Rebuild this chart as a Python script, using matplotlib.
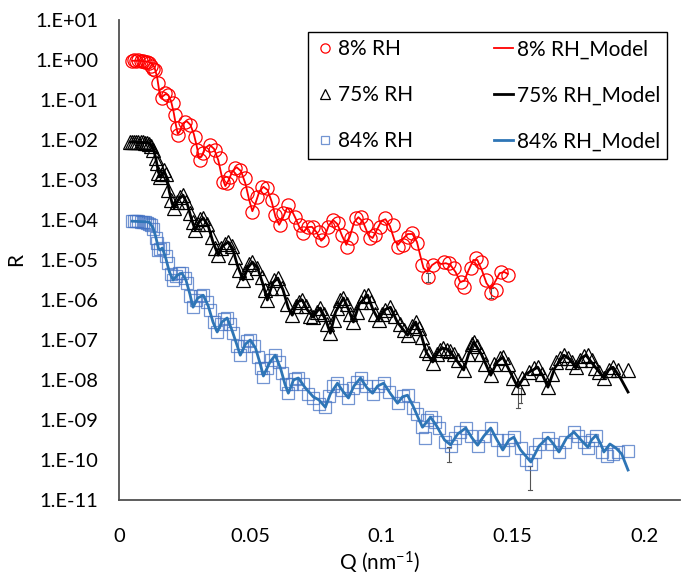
import numpy as np
import matplotlib
matplotlib.use('Agg')
import matplotlib.pyplot as plt
from matplotlib.ticker import NullLocator

q_8 = [0.0050, 0.0058, 0.0066, 0.0074, 0.0082, 0.0090, 0.0098, 0.0106, 0.0114, 0.0122, 0.0130,
       0.0137, 0.0149, 0.0164, 0.0176, 0.0187, 0.0206, 0.0214, 0.0221, 0.0225, 0.0252, 0.0271,
       0.0290, 0.0298, 0.0309, 0.0321, 0.0347, 0.0366, 0.0385, 0.0397, 0.0412, 0.0424, 0.0443,
       0.0462, 0.0481, 0.0489, 0.0508, 0.0527, 0.0546, 0.0565, 0.0584, 0.0595, 0.0615, 0.0626,
       0.0645, 0.0672, 0.0691, 0.0702, 0.0721, 0.0740, 0.0760, 0.0775, 0.0798, 0.0817, 0.0836,
       0.0851, 0.0870, 0.0882, 0.0901, 0.0920, 0.0939, 0.0958, 0.0977, 0.0996, 0.1015, 0.1042,
       0.1061, 0.1080, 0.1099, 0.1118, 0.1137, 0.1156, 0.1176, 0.1198, 0.1237, 0.1256, 0.1275,
       0.1302, 0.1313, 0.1340, 0.1359, 0.1378, 0.1397, 0.1416, 0.1435, 0.1454, 0.1481]
lr_8 = [-0.02, -0.01, -0.02, -0.01, -0.03, -0.02, -0.04, -0.05, -0.08, -0.14, -0.22,
        -0.25, -0.58, -0.95, -0.83, -0.88, -1.08, -1.38, -1.70, -1.88, -1.55, -1.63,
        -1.93, -2.25, -2.50, -2.33, -2.13, -2.25, -2.45, -3.05, -3.08, -2.93, -2.70,
        -2.75, -2.95, -3.33, -3.80, -3.43, -3.18, -3.20, -3.50, -3.88, -4.13, -3.83,
        -3.63, -3.93, -4.13, -4.33, -4.18, -4.18, -4.30, -4.50, -4.18, -4.00, -4.08,
        -4.38, -4.68, -4.45, -3.95, -3.93, -4.13, -4.45, -4.38, -4.18, -3.95, -4.13,
        -4.68, -4.63, -4.43, -4.33, -4.58, -5.13, -5.43, -5.13, -5.05, -5.08, -5.20,
        -5.55, -5.68, -5.20, -4.95, -5.05, -5.50, -5.83, -5.75, -5.30, -5.38]

q_75 = [0.0042, 0.0050, 0.0058, 0.0066, 0.0074, 0.0082, 0.0090, 0.0098, 0.0106, 0.0114, 0.0122,
        0.0130, 0.0140, 0.0145, 0.0149, 0.0156, 0.0164, 0.0172, 0.0180, 0.0187, 0.0198, 0.0210,
        0.0220, 0.0232, 0.0244, 0.0256, 0.0271, 0.0280, 0.0290, 0.0300, 0.0310, 0.0321, 0.0335,
        0.0355, 0.0365, 0.0378, 0.0390, 0.0403, 0.0416, 0.0430, 0.0443, 0.0458, 0.0473, 0.0485,
        0.0497, 0.0508, 0.0525, 0.0546, 0.0556, 0.0565, 0.0578, 0.0592, 0.0607, 0.0622, 0.0640,
        0.0660, 0.0675, 0.0685, 0.0698, 0.0712, 0.0728, 0.0740, 0.0755, 0.0767, 0.0780, 0.0793,
        0.0805, 0.0818, 0.0830, 0.0843, 0.0855, 0.0868, 0.0880, 0.0893, 0.0905, 0.0920, 0.0933,
        0.0947, 0.0960, 0.0975, 0.0989, 0.1000, 0.1015, 0.1034, 0.1050, 0.1070, 0.1085, 0.1099,
        0.1115, 0.1130, 0.1143, 0.1156, 0.1170, 0.1182, 0.1195, 0.1210, 0.1222, 0.1233, 0.1250,
        0.1262, 0.1275, 0.1290, 0.1313, 0.1330, 0.1345, 0.1351, 0.1365, 0.1380, 0.1395, 0.1416,
        0.1430, 0.1450, 0.1462, 0.1480, 0.1500, 0.1519, 0.1535, 0.1560, 0.1580, 0.1595, 0.1610,
        0.1634, 0.1650, 0.1665, 0.1680, 0.1695, 0.1710, 0.1725, 0.1740, 0.1755, 0.1770, 0.1785,
        0.1800, 0.1815, 0.1830, 0.1847, 0.1865, 0.1882, 0.1900, 0.1939]
lr_75 = [-2.05, -2.04, -2.05, -2.04, -2.05, -2.06, -2.05, -2.07, -2.08, -2.10, -2.15,
         -2.25, -2.45, -2.58, -2.83, -2.93, -2.85, -2.75, -2.85, -3.25, -3.50, -3.70,
         -3.55, -3.42, -3.38, -3.55, -3.83, -4.05, -4.25, -4.10, -3.98, -3.95, -4.10,
         -4.43, -4.70, -4.88, -4.70, -4.60, -4.55, -4.65, -4.93, -5.25, -5.50, -5.30,
         -5.10, -5.05, -5.20, -5.43, -5.75, -6.00, -5.70, -5.50, -5.45, -5.70, -6.10,
         -6.38, -6.15, -6.05, -6.00, -6.15, -6.40, -6.43, -6.30, -6.20, -6.35, -6.60,
         -6.83, -6.50, -6.20, -6.00, -5.95, -6.10, -6.35, -6.55, -6.30, -6.05, -5.90,
         -5.88, -6.05, -6.35, -6.50, -6.35, -6.25, -6.18, -6.40, -6.60, -6.75, -6.88,
         -6.65, -6.55, -6.70, -6.93, -7.25, -7.33, -7.58, -7.35, -7.25, -7.20, -7.25,
         -7.28, -7.35, -7.50, -7.75, -7.35, -7.10, -7.05, -7.15, -7.35, -7.60, -7.88,
         -7.60, -7.45, -7.43, -7.60, -7.95, -8.18, -7.95, -7.80, -7.70, -7.68, -7.85,
         -8.18, -7.85, -7.55, -7.45, -7.38, -7.45, -7.55, -7.68, -7.50, -7.40, -7.38,
         -7.50, -7.70, -7.80, -7.95, -7.75, -7.68, -7.75, -7.75]

q_84 = [0.0050, 0.0058, 0.0066, 0.0074, 0.0082, 0.0090, 0.0098, 0.0106, 0.0114, 0.0122, 0.0130,
        0.0140, 0.0145, 0.0149, 0.0158, 0.0168, 0.0178, 0.0187, 0.0198, 0.0206, 0.0218, 0.0230,
        0.0240, 0.0250, 0.0260, 0.0270, 0.0282, 0.0295, 0.0308, 0.0321, 0.0335, 0.0347, 0.0360,
        0.0374, 0.0387, 0.0400, 0.0412, 0.0424, 0.0435, 0.0450, 0.0462, 0.0475, 0.0488, 0.0500,
        0.0515, 0.0531, 0.0542, 0.0550, 0.0565, 0.0580, 0.0595, 0.0608, 0.0622, 0.0635, 0.0645,
        0.0660, 0.0672, 0.0683, 0.0700, 0.0721, 0.0740, 0.0760, 0.0786, 0.0800, 0.0815, 0.0832,
        0.0850, 0.0874, 0.0890, 0.0905, 0.0920, 0.0940, 0.0966, 0.0985, 0.1008, 0.1030, 0.1061,
        0.1080, 0.1099, 0.1120, 0.1137, 0.1156, 0.1165, 0.1175, 0.1187, 0.1205, 0.1218, 0.1240,
        0.1263, 0.1280, 0.1300, 0.1321, 0.1340, 0.1366, 0.1390, 0.1416, 0.1440, 0.1462, 0.1480,
        0.1504, 0.1530, 0.1550, 0.1569, 0.1585, 0.1600, 0.1634, 0.1650, 0.1676, 0.1700, 0.1733,
        0.1750, 0.1770, 0.1786, 0.1800, 0.1817, 0.1840, 0.1860, 0.1880, 0.1900, 0.1939]
lr_84 = [-4.02, -4.03, -4.02, -4.03, -4.04, -4.05, -4.06, -4.08, -4.10, -4.12, -4.22,
         -4.45, -4.58, -4.75, -4.72, -4.70, -4.90, -5.08, -5.35, -5.50, -5.40, -5.33,
         -5.33, -5.45, -5.58, -5.90, -6.18, -6.00, -5.90, -5.88, -6.05, -6.25, -6.55,
         -6.80, -6.60, -6.48, -6.45, -6.60, -6.83, -7.15, -7.38, -7.15, -7.02, -7.00,
         -7.15, -7.43, -7.70, -7.93, -7.70, -7.50, -7.38, -7.55, -7.83, -8.10, -8.33,
         -8.10, -7.98, -7.95, -8.10, -8.35, -8.45, -8.60, -8.68, -8.40, -8.15, -8.08,
         -8.25, -8.45, -8.20, -8.05, -7.95, -8.15, -8.35, -8.15, -8.08, -8.30, -8.58,
         -8.40, -8.38, -8.70, -8.85, -9.18, -9.45, -9.00, -8.93, -9.05, -9.20, -9.55,
         -9.65, -9.45, -9.30, -9.20, -9.40, -9.65, -9.40, -9.20, -9.50, -9.75, -9.50,
         -9.43, -9.70, -10.00, -10.10, -9.80, -9.60, -9.45, -9.60, -9.80, -9.55, -9.30,
         -9.40, -9.55, -9.70, -9.50, -9.40, -9.80, -9.90, -9.85, -9.80, -9.78]

# ---------------- model curves ----------------
qm_8 = [0.0050, 0.0080, 0.0110, 0.0125, 0.0135, 0.0145, 0.0152, 0.0160, 0.0168, 0.0178, 0.0188,
        0.0198, 0.0208, 0.0216, 0.0224, 0.0232, 0.0244, 0.0258, 0.0272, 0.0285, 0.0296, 0.0305,
        0.0314, 0.0328, 0.0345, 0.0362, 0.0378, 0.0392, 0.0405, 0.0418, 0.0432, 0.0448, 0.0465,
        0.0482, 0.0496, 0.0508, 0.0520, 0.0535, 0.0550, 0.0566, 0.0582, 0.0596, 0.0610, 0.0624,
        0.0640, 0.0655, 0.0672, 0.0690, 0.0703, 0.0718, 0.0735, 0.0752, 0.0770, 0.0782, 0.0798,
        0.0815, 0.0832, 0.0850, 0.0866, 0.0880, 0.0896, 0.0912, 0.0930, 0.0950, 0.0966, 0.0982,
        0.1000, 0.1015, 0.1032, 0.1050, 0.1063, 0.1080, 0.1100, 0.1118, 0.1135, 0.1148, 0.1160,
        0.1175, 0.1192, 0.1210, 0.1228, 0.1245, 0.1262, 0.1282, 0.1300, 0.1315, 0.1332, 0.1350,
        0.1365, 0.1382, 0.1400, 0.1416, 0.1432, 0.1450, 0.1468, 0.1481]
lm_8 = [-0.02, -0.02, -0.04, -0.08, -0.18, -0.42, -0.72, -0.93, -0.90, -0.85, -0.88,
        -1.02, -1.30, -1.60, -1.85, -1.78, -1.58, -1.53, -1.62, -1.85, -2.15, -2.45,
        -2.42, -2.20, -2.12, -2.22, -2.50, -2.92, -3.15, -3.00, -2.78, -2.68, -2.78,
        -3.10, -3.50, -3.78, -3.58, -3.28, -3.17, -3.25, -3.55, -3.92, -4.12, -3.95,
        -3.70, -3.72, -3.95, -4.22, -4.30, -4.18, -4.17, -4.30, -4.52, -4.45, -4.15,
        -4.00, -4.10, -4.40, -4.62, -4.40, -4.05, -3.93, -4.05, -4.38, -4.45, -4.25,
        -4.02, -3.98, -4.15, -4.52, -4.62, -4.48, -4.35, -4.35, -4.55, -4.90, -5.20,
        -5.30, -5.13, -5.05, -5.10, -5.08, -5.12, -5.30, -5.55, -5.52, -5.25, -5.00,
        -5.00, -5.25, -5.58, -5.72, -5.55, -5.33, -5.30, -5.35]

qm_75 = [0.0042, 0.0115, 0.0130, 0.0140, 0.0150, 0.0157, 0.0172, 0.0182, 0.0192, 0.0202, 0.0210,
         0.0225, 0.0244, 0.0260, 0.0275, 0.0290, 0.0305, 0.0321, 0.0340, 0.0358, 0.0378, 0.0395,
         0.0416, 0.0432, 0.0452, 0.0473, 0.0490, 0.0508, 0.0528, 0.0548, 0.0565, 0.0585, 0.0605,
         0.0625, 0.0645, 0.0660, 0.0680, 0.0698, 0.0718, 0.0740, 0.0755, 0.0767, 0.0785, 0.0805,
         0.0825, 0.0855, 0.0875, 0.0893, 0.0915, 0.0947, 0.0968, 0.0989, 0.1010, 0.1034, 0.1060,
         0.1099, 0.1130, 0.1150, 0.1170, 0.1195, 0.1215, 0.1233, 0.1255, 0.1280, 0.1313, 0.1332,
         0.1351, 0.1380, 0.1416, 0.1440, 0.1462, 0.1490, 0.1519, 0.1550, 0.1595, 0.1615, 0.1634,
         0.1660, 0.1695, 0.1720, 0.1740, 0.1760, 0.1779, 0.1805, 0.1847, 0.1865, 0.1882, 0.1910,
         0.1939]
lm_75 = [-2.05, -2.07, -2.20, -2.45, -2.80, -2.92, -2.78, -2.95, -3.30, -3.58, -3.70,
         -3.50, -3.38, -3.60, -3.95, -4.25, -4.05, -3.95, -4.15, -4.55, -4.88, -4.65,
         -4.55, -4.70, -5.15, -5.50, -5.20, -5.05, -5.20, -5.60, -6.00, -5.58, -5.45,
         -5.75, -6.20, -6.38, -6.05, -6.00, -6.25, -6.43, -6.28, -6.20, -6.45, -6.83,
         -6.30, -5.95, -6.25, -6.55, -6.10, -5.88, -6.25, -6.50, -6.25, -6.18, -6.55,
         -6.88, -6.55, -6.85, -7.30, -7.55, -7.30, -7.20, -7.25, -7.45, -7.75, -7.35,
         -7.05, -7.35, -7.88, -7.55, -7.43, -7.80, -8.18, -7.85, -7.68, -7.90, -8.18,
         -7.70, -7.38, -7.50, -7.70, -7.45, -7.38, -7.60, -7.95, -7.75, -7.68, -7.95,
         -8.30]

qm_84 = [0.0050, 0.0115, 0.0130, 0.0140, 0.0150, 0.0155, 0.0165, 0.0178, 0.0192, 0.0206, 0.0222,
         0.0240, 0.0255, 0.0270, 0.0282, 0.0300, 0.0321, 0.0340, 0.0358, 0.0374, 0.0392, 0.0412,
         0.0430, 0.0448, 0.0462, 0.0482, 0.0500, 0.0520, 0.0538, 0.0550, 0.0575, 0.0595, 0.0615,
         0.0632, 0.0645, 0.0665, 0.0683, 0.0710, 0.0740, 0.0762, 0.0786, 0.0805, 0.0832, 0.0855,
         0.0874, 0.0895, 0.0920, 0.0945, 0.0966, 0.0985, 0.1008, 0.1035, 0.1061, 0.1080, 0.1099,
         0.1120, 0.1140, 0.1156, 0.1187, 0.1210, 0.1240, 0.1263, 0.1290, 0.1321, 0.1345, 0.1366,
         0.1390, 0.1416, 0.1440, 0.1462, 0.1485, 0.1504, 0.1530, 0.1569, 0.1600, 0.1634, 0.1655,
         0.1676, 0.1705, 0.1733, 0.1760, 0.1786, 0.1800, 0.1817, 0.1835, 0.1847, 0.1870, 0.1893,
         0.1915, 0.1939]
lm_84 = [-4.03, -4.05, -4.20, -4.42, -4.70, -4.75, -4.70, -4.95, -5.30, -5.50, -5.38,
         -5.33, -5.50, -5.85, -6.18, -5.95, -5.88, -6.15, -6.55, -6.80, -6.55, -6.45,
         -6.75, -7.10, -7.38, -7.10, -7.00, -7.20, -7.60, -7.90, -7.55, -7.38, -7.70,
         -8.10, -8.33, -8.00, -7.95, -8.20, -8.42, -8.50, -8.68, -8.35, -8.08, -8.30,
         -8.45, -8.15, -7.95, -8.20, -8.33, -8.15, -8.08, -8.35, -8.58, -8.42, -8.38,
         -8.65, -8.95, -9.18, -8.93, -9.15, -9.50, -9.62, -9.35, -9.20, -9.45, -9.63,
         -9.40, -9.20, -9.50, -9.75, -9.50, -9.43, -9.75, -10.05, -9.65, -9.43, -9.60,
         -9.80, -9.45, -9.30, -9.50, -9.68, -9.50, -9.38, -9.60, -9.80, -9.60, -9.70,
         -9.85, -10.25]

# visible larger error bars: Q, log10 low, log10 high
eb_q = [0.1176, 0.1416, 0.1519, 0.1530, 0.1256, 0.1565]
eb_lo = [-5.55, -5.95, -8.70, -8.58, -10.05, -10.75]
eb_hi = [-5.33, -5.70, -8.08, -8.20, -9.68, -10.15]

yticks_exp = list(range(1, -12, -1))
ytick_labels = ['1.E+01', '1.E+00', '1.E-01', '1.E-02', '1.E-03', '1.E-04', '1.E-05',
                '1.E-06', '1.E-07', '1.E-08', '1.E-09', '1.E-10', '1.E-11']
xticks = [0, 0.05, 0.1, 0.15, 0.2]
xtick_labels = ['0', '0.05', '0.1', '0.15', '0.2']

# ---------------- plotting ----------------
plt.rcParams['font.family'] = ['Lato', 'DejaVu Sans']
plt.rcParams['mathtext.fontset'] = 'custom'
plt.rcParams['mathtext.rm'] = 'Lato'
plt.rcParams['mathtext.it'] = 'Lato:italic'

def R(v):
    return 10.0 ** np.asarray(v)

fig = plt.figure(figsize=(6.84, 5.76), dpi=100)
ax = fig.add_axes([119 / 684, 76 / 576, 561 / 684, 480 / 576])

for q, lo, hi in zip(eb_q, eb_lo, eb_hi):
    ax.plot([q, q], [R(lo), R(hi)], color='#555555', lw=0.8, zorder=1)
    ax.plot([q - 0.0007, q + 0.0007], [R(lo), R(lo)], color='#555555', lw=0.8, zorder=1)
    ax.plot([q - 0.0007, q + 0.0007], [R(hi), R(hi)], color='#555555', lw=0.8, zorder=1)

h1, = ax.plot(q_8, R(lr_8), ls='none', marker='o', ms=9.5, mfc='none', mec='#FF0000', mew=0.9,
              label='8% RH', zorder=2)
h2, = ax.plot(q_75, R(lr_75), ls='none', marker='^', ms=9.5, mfc='none', mec='#000000', mew=0.9,
              label='75% RH', zorder=2)
h3, = ax.plot(q_84, R(lr_84), ls='none', marker='s', ms=8.5, mfc='none', mec='#4472C4', mew=0.9,
              alpha=0.75, label='84% RH', zorder=2)
h4, = ax.plot(qm_8, R(lm_8), color='#FF0000', lw=1.3, label='8% RH_Model', zorder=3)
h5, = ax.plot(qm_75, R(lm_75), color='#000000', lw=2.0, label='75% RH_Model', zorder=3)
h6, = ax.plot(qm_84, R(lm_84), color='#2E75B6', lw=2.0, label='84% RH_Model', zorder=3)

ax.set_yscale('log')
ax.set_ylim(1e-11, 1e1)
ax.set_xlim(0, 0.2137)
ax.set_yticks(R(yticks_exp))
ax.set_yticklabels(ytick_labels)
ax.yaxis.set_minor_locator(NullLocator())
ax.set_xticks(xticks)
ax.set_xticklabels(xtick_labels)
ax.tick_params(axis='both', length=0, labelsize=14.5, colors='#000000')
ax.tick_params(axis='y', pad=15)
ax.tick_params(axis='x', pad=20)
for s in ['top', 'right']:
    ax.spines[s].set_visible(False)
for s in ['left', 'bottom']:
    ax.spines[s].set_color('#505050')
    ax.spines[s].set_linewidth(1.3)

ax.set_ylabel('R', fontsize=15)
ax.yaxis.set_label_coords(-0.165, 0.5)
ax.set_xlabel(r'Q (nm$^{-1}$)', fontsize=15)
ax.xaxis.set_label_coords(0.465, -0.103)

leg = ax.legend(handles=[h1, h2, h3, h4, h5, h6], ncol=2, loc='upper left',
                bbox_to_anchor=(0.337, 0.975), borderaxespad=0, fontsize=15, frameon=True,
                fancybox=False, edgecolor='#000000', framealpha=1, handlelength=0.95,
                handletextpad=0.15, columnspacing=3.85, labelspacing=1.25, markerscale=0.7,
                borderpad=0.35)
leg.get_frame().set_linewidth(1.0)

fig.savefig('out.png', dpi=100)
